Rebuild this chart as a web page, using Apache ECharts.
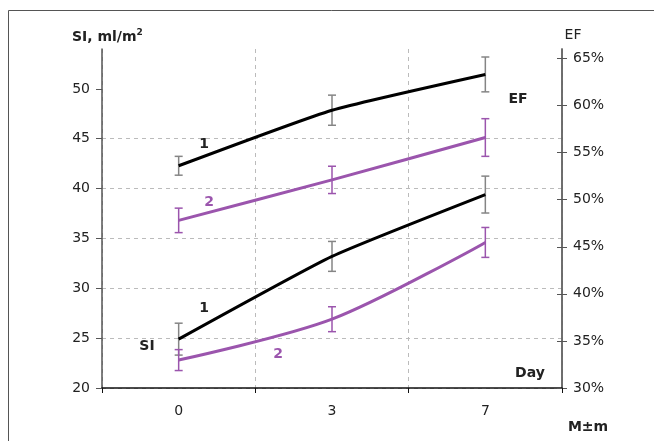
<!DOCTYPE html>
<html>
<head>
<meta charset="utf-8">
<script src="https://cdn.jsdelivr.net/npm/echarts@6/dist/echarts.min.js"></script>
<style>html,body{margin:0;padding:0;background:#fff}#c{width:654px;height:441px}</style>
</head>
<body>
<div id="c"></div>
<script>
// ---- data ----
var days = ['0', '3', '7'];
var siTicks = [20, 25, 30, 35, 40, 45, 50];
var efTicks = [30, 35, 40, 45, 50, 55, 60, 65];
var efGroup1 = [53.6, 59.5, 63.3];
var efGroup1Err = [1.0, 1.6, 1.85];
var efGroup2 = [47.8, 52.1, 56.6];
var efGroup2Err = [1.3, 1.45, 2.0];
var siGroup1 = [24.9, 33.2, 39.4];
var siGroup1Err = [1.6, 1.5, 1.85];
var siGroup2 = [22.8, 26.9, 34.6];
var siGroup2Err = [1.05, 1.25, 1.5];

var FONT = 'DejaVu Sans';
var PURPLE = '#9b55ad';
var GRAYERR = '#858585';

function errData(vals, errs) {
  return vals.map(function (v, i) { return [i, v - errs[i], v + errs[i]]; });
}
function errSeries(vals, errs, color, yIdx) {
  return {
    type: 'custom', yAxisIndex: yIdx, z: 3, silent: true,
    data: errData(vals, errs),
    renderItem: function (params, api) {
      var lo = api.coord([api.value(0), api.value(1)]);
      var hi = api.coord([api.value(0), api.value(2)]);
      var w = 4;
      var st = { stroke: color, lineWidth: 1.5 };
      return { type: 'group', children: [
        { type: 'line', shape: { x1: lo[0], y1: lo[1], x2: hi[0], y2: hi[1] }, style: st },
        { type: 'line', shape: { x1: lo[0] - w, y1: lo[1], x2: lo[0] + w, y2: lo[1] }, style: st },
        { type: 'line', shape: { x1: hi[0] - w, y1: hi[1], x2: hi[0] + w, y2: hi[1] }, style: st }
      ] };
    }
  };
}
function lineSeries(vals, color, yIdx, smooth) {
  return { type: 'line', yAxisIndex: yIdx, data: vals, smooth: smooth, symbol: 'none', z: 4,
    lineStyle: { color: color, width: 3 } };
}

var chart = echarts.init(document.getElementById('c'), null, { renderer: 'canvas' });
var txt = function (x, y, t, opt) {
  opt = opt || {};
  return { type: 'text', x: x, y: y, z: 10, style: { text: t, fill: opt.fill || '#222',
    font: (opt.bold ? 'bold ' : '') + (opt.size || 14) + 'px ' + FONT,
    align: opt.align || 'center', verticalAlign: 'middle' } };
};
chart.setOption({
  animation: false,
  grid: { left: 102, right: 92, top: 49, bottom: 53 },
  xAxis: {
    type: 'category', data: days, boundaryGap: true,
    axisLine: { lineStyle: { color: '#111', width: 1.5 } },
    axisTick: { show: true, length: 5, lineStyle: { color: '#111' } },
    axisLabel: { color: '#222', fontFamily: FONT, fontSize: 14, margin: 16 },
    splitLine: { show: true, lineStyle: { color: '#bbb', type: [4, 4], width: 1 } }
  },
  yAxis: [
    { type: 'value', min: 20, max: 54, interval: 5, position: 'left',
      axisLine: { show: true, lineStyle: { color: '#555', width: 1.5 } },
      axisTick: { show: true, length: 6, customValues: siTicks, lineStyle: { color: '#555' } },
      axisLabel: { color: '#222', fontFamily: FONT, fontSize: 14, margin: 12, customValues: siTicks },
      splitLine: { show: true, showMaxLine: false, lineStyle: { color: '#bbb', type: [4, 4], width: 1 } } },
    { type: 'value', min: 30, max: 66, interval: 5, position: 'right',
      axisLine: { show: true, lineStyle: { color: '#666', width: 1.5 } },
      axisTick: { show: true, length: 5, customValues: efTicks, lineStyle: { color: '#555' } },
      axisLabel: { color: '#222', fontFamily: FONT, fontSize: 14, margin: 11, customValues: efTicks,
        formatter: function (v) { return v + '%'; } },
      splitLine: { show: false } },
    { type: 'value', min: 30, max: 66, interval: 5, position: 'right',
      axisLine: { show: true, lineStyle: { color: '#666', width: 1.5 } },
      axisTick: { show: true, inside: true, length: 5, customValues: efTicks, lineStyle: { color: '#555' } },
      axisLabel: { show: false },
      splitLine: { show: false } }
  ],
  series: [
    errSeries(efGroup1, efGroup1Err, GRAYERR, 1),
    errSeries(efGroup2, efGroup2Err, PURPLE, 1),
    errSeries(siGroup1, siGroup1Err, GRAYERR, 0),
    errSeries(siGroup2, siGroup2Err, PURPLE, 0),
    lineSeries(efGroup1, '#000', 1, 0.15),
    lineSeries(efGroup2, PURPLE, 1, 0.15),
    lineSeries(siGroup1, '#000', 0, 0.15),
    lineSeries(siGroup2, PURPLE, 0, 0.3)
  ],
  graphic: [
    { type: 'rect', shape: { x: 8.5, y: 10.5, width: 800, height: 600 }, style: { fill: 'none', stroke: '#555', lineWidth: 1 }, z: 1 },
    { type: 'text', x: 72, y: 37, z: 10, style: { text: '{a|SI, ml/m}{s|2}', verticalAlign: 'middle',
      rich: { a: { font: 'bold 14px ' + FONT, fill: '#222' }, s: { font: 'bold 9px ' + FONT, fill: '#222', verticalAlign: 'top', padding: [0, 0, 8, 0] } } } },
    txt(573, 35, 'EF'),
    txt(518, 99, 'EF', { bold: true }),
    txt(204, 144, '1', { bold: true }),
    txt(209, 202, '2', { bold: true, fill: PURPLE }),
    txt(204, 308, '1', { bold: true }),
    txt(147, 346, 'SI', { bold: true }),
    txt(278, 354, '2', { bold: true, fill: PURPLE }),
    txt(530, 373, 'Day', { bold: true }),
    txt(588, 427, 'M±m', { bold: true })
  ]
});
</script>
</body>
</html>
